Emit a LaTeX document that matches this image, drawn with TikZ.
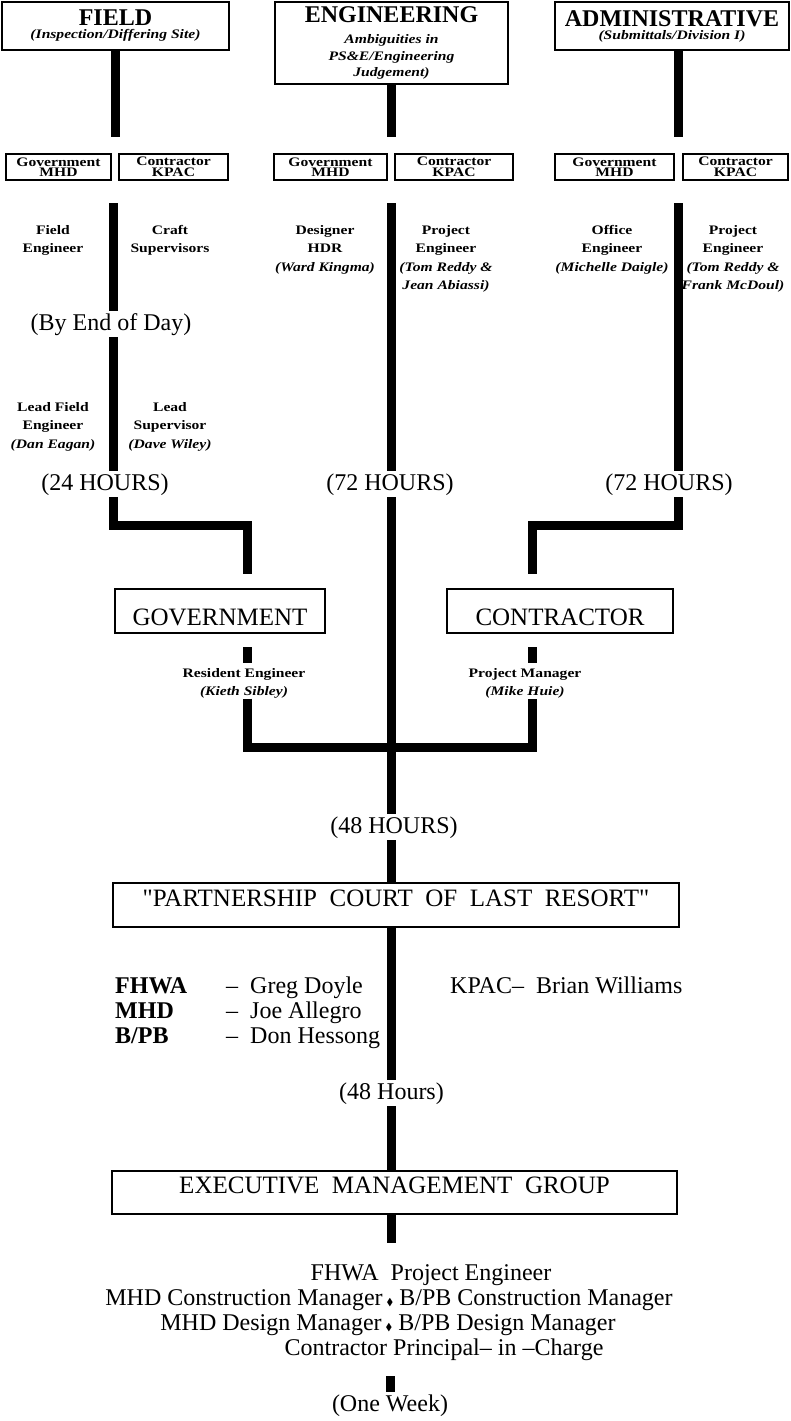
\documentclass[tikz,border=0pt]{standalone}
\usepackage{amssymb}
\usepackage{fontspec}
\setmainfont{Liberation Serif}
\newfontfamily\widefont[FakeStretch=1.2]{Liberation Serif}
\newcommand{\dmd}{{\fontsize{10}{10}\selectfont$\blacklozenge$}}
\newcommand{\headline}[1]{{\normalfont\bfseries\fontsize{24}{13}\selectfont #1}}
\tikzset{
	bar/.style={line width=9pt},
	headbox/.style={draw, line width=2.2pt, inner sep=0pt, align=center,
		font=\widefont\bfseries\itshape\fontsize{13}{16.5}\selectfont},
	partybox/.style={draw, line width=2pt, inner sep=0pt, minimum height=26pt, align=center,
		font=\widefont\bfseries\fontsize{13}{10.5}\selectfont},
	role/.style={inner sep=0pt, anchor=north, align=center,
		font=\widefont\bfseries\fontsize{13}{18.5}\selectfont},
	hours/.style={inner sep=2pt, anchor=base, font=\fontsize{24}{25}\selectfont},
	orgbox/.style={draw, line width=2.2pt, inner xsep=0pt, inner ysep=3pt,
		font={\fontsize{25}{25}\selectfont\spaceskip=.5em\relax}},
	member/.style={inner sep=0pt, font=\fontsize{24}{25}\selectfont},
}

\begin{document}
\begin{tikzpicture}[x=1pt,y=-1pt]
	\useasboundingbox (0,0) rectangle (791,1421);
	
	\node[headbox, minimum width=227pt, minimum height=48pt] (field) at (115.5,26) {\headline{FIELD}\\[-3.5pt](Inspection/Differing Site)};
	\node[headbox, minimum width=233pt, minimum height=82pt] (eng) at (391.5,43) {\headline{ENGINEERING}\\[4.5pt]Ambiguities in\\PS\&E/Engineering\\Judgement)};
	\node[headbox, minimum width=234pt, minimum height=48pt] (admin) at (672,26) {\headline{ADMINISTRATIVE}\\[-3.5pt](Submittals/Division I)};
	
	\coordinate (fend) at (115.5,137);
	\coordinate (eend) at (391.5,137);
	\coordinate (aend) at (678.5,137);
	
	\node[partybox, minimum width=105pt] (fgov) at (58.5,167) {Government\\MHD};
	\node[partybox, minimum width=109pt] (fcon) at (173.5,167) {Contractor\\KPAC};
	\node[partybox, minimum width=113pt] (egov) at (330.5,167) {Government\\MHD};
	\node[partybox, minimum width=118pt] (econ) at (454,167) {Contractor\\KPAC};
	\node[partybox, minimum width=119pt] (agov) at (614.5,167) {Government\\MHD};
	\node[partybox, minimum width=105pt] (acon) at (735.5,167) {Contractor\\KPAC};
	
	\coordinate (fmid) at (113.5,203);
	\coordinate (emid) at (391.5,203);
	\coordinate (amid) at (678,203);
	
	\node[role] (fl1) at (53,225) {Field\\Engineer};
	\node[role] (fl2) at (170,225) {Craft\\Supervisors};
	\node[role] (el1) at (325,225) {Designer\\HDR\\\textit{(Ward Kingma)}};
	\node[role] (el2) at (446,225) {Project\\Engineer\\\textit{(Tom Reddy \&}\\\textit{Jean Abiassi)}};
	\node[role] (al1) at (612,225) {Office\\Engineer\\\textit{(Michelle Daigle)}};
	\node[role] (al2) at (733,225) {Project\\Engineer\\\textit{(Tom Reddy \&}\\\textit{Frank McDoul)}};
	
	\node[hours] (fday) at (111,330) {(By End of Day)};
	
	\node[role] (fl3) at (53,402) {Lead Field\\Engineer\\\textit{(Dan Eagan)}};
	\node[role] (fl4) at (170,402) {Lead\\Supervisor\\\textit{(Dave Wiley)}};
	
	\node[hours] (f24) at (105,490) {(24 HOURS)};
	\node[hours] (e72) at (390,490) {(72 HOURS)};
	\node[hours] (a72) at (669,490) {(72 HOURS)};
	
	\coordinate (gknee) at (247.5,525.5);
	\coordinate (gin) at (247.5,574);
	\coordinate (cknee) at (532.5,525.5);
	\coordinate (cin) at (532.5,574);
	
	\node[orgbox, minimum width=210pt, text height=33pt, text depth=5pt] (govt) at (220,611) {GOVERNMENT};
	\node[orgbox, minimum width=226pt, text height=33pt, text depth=5pt] (contr) at (560,611) {CONTRACTOR};
	
	\coordinate (gstub) at (247.5,647);
	\coordinate (cstub) at (532.5,647);
	\node[role] (gres) at (244,668) {Resident Engineer\\\textit{(Kieth Sibley)}};
	\node[role] (cres) at (525,668) {Project Manager\\\textit{(Mike Huie)}};
	\coordinate (meet) at (391.5,747);
	
	\node[hours] (h48) at (394,833) {(48 HOURS)};
	\node[orgbox, minimum width=565.5pt, text height=20pt, text depth=18pt] (court) at (396,905) {\textquotedbl PARTNERSHIP COURT OF LAST RESORT\textquotedbl};
	
	\node[member, anchor=north west, align=left] (fed) at (115,976.5) {\makebox[111pt][l]{\textbf{FHWA}}–\hspace{.5em}Greg Doyle\\\makebox[111pt][l]{\textbf{MHD}}–\hspace{.5em}Joe Allegro\\\makebox[111pt][l]{\textbf{B/PB}}–\hspace{.5em}Don Hessong};
	\node[member, anchor=base west] (kpac) at (450,993) {KPAC–\hspace{.5em}Brian Williams};
	
	\node[hours] (h48b) at (391.5,1099) {(48 Hours)};
	\node[orgbox, minimum width=565pt, text height=19pt, text depth=18pt] (exec) at (394.5,1192.5) {EXECUTIVE MANAGEMENT GROUP};
	\coordinate (xend) at (391.5,1243);
	
	\node[member, anchor=base] (l1) at (431,1280) {FHWA\ \ Project Engineer};
	\node[member, anchor=base] (l2) at (389,1305) {MHD Construction Manager\,\dmd\ B/PB Construction Manager};
	\node[member, anchor=base] (l3) at (388,1330) {MHD Design Manager\,\dmd\ B/PB Design Manager};
	\node[member, anchor=base] (l4) at (444,1355) {Contractor Principal– in –Charge};
	
	\coordinate (wtop) at (390,1376);
	\node[hours] (week) at (390,1411) {(One Week)};
	
	\draw[bar] (field.south) -- (fend);
	\draw[bar] (eng.south) -- (eend);
	\draw[bar] (admin.south -| aend) -- (aend);
	\draw[bar] (fmid) -- (fday.north -| fmid);
	\draw[bar] (fday.south -| fmid) -- (f24.north -| fmid);
	\draw[bar] (f24.south -| fmid) |- (gknee) -- (gin);
	\draw[bar] (emid) -- (e72.north -| emid);
	\draw[bar] (e72.south -| emid) -- (h48.north -| emid);
	\draw[bar] (amid) -- (a72.north -| amid);
	\draw[bar] (a72.south -| amid) |- (cknee) -- (cin);
	\draw[bar, shorten >=5pt] (gstub) -- (gres.north -| gstub);
	\draw[bar, shorten >=5pt] (cstub) -- (cres.north -| cstub);
	\draw[bar] (gres.south -| gstub) |- (meet) -| (cres.south -| cstub);
	\draw[bar] (h48.south -| emid) -- (court.north -| emid);
	\draw[bar] (court.south -| emid) -- (h48b.north -| emid);
	\draw[bar] (h48b.south -| emid) -- (exec.north -| emid);
	\draw[bar] (exec.south -| emid) -- (xend);
	\draw[bar] (wtop) -- (week.north -| wtop);
\end{tikzpicture}
\end{document}
